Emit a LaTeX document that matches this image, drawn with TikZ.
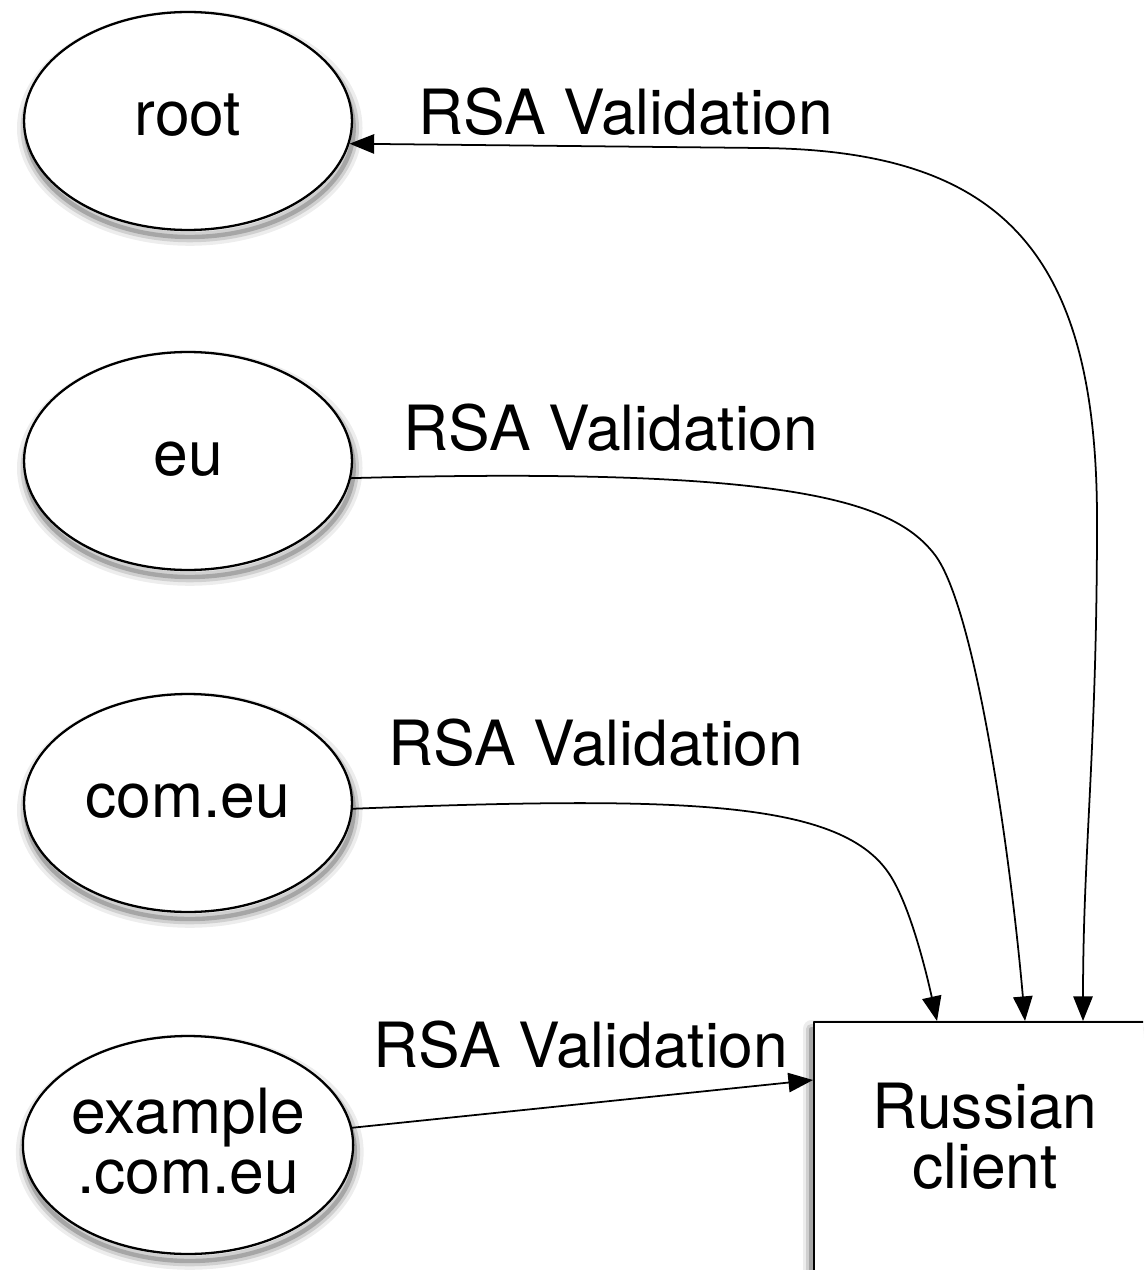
\documentclass[tikz,border=0pt]{standalone}
\usepackage{fontspec}
\setmainfont{TeX Gyre Heros}
\usetikzlibrary{shapes.geometric,arrows.meta}

\begin{document}
\begin{tikzpicture}[x=0.02cm,y=-0.02cm,line cap=round,line join=round,
  big/.style={font=\fontsize{35.5}{34}\selectfont},
  softshadow/.style={
    preaction={draw=black,line width=10pt,opacity=.07,transform canvas={xshift=#1,yshift=-4pt}},
    preaction={draw=black,line width=6pt,opacity=.12,transform canvas={xshift=#1,yshift=-4pt}},
    preaction={draw=black,line width=2.5pt,opacity=.2,transform canvas={xshift=#1,yshift=-4pt}}},
  zone/.style={ellipse,draw,line width=1.3pt,fill=white,inner sep=0pt,
    minimum width=6.56cm,minimum height=4.36cm,big,softshadow=1pt},
  oneline/.style={text height=24.5pt,text depth=7.7pt},
  clientbox/.style={rectangle,draw,line width=1.2pt,fill=white,anchor=north west,
    minimum width=6.9cm,minimum height=6cm,softshadow=-1.5pt},
  link/.style={line width=1pt,-{Triangle[length=14pt,width=11pt]}},
  both/.style={line width=1pt,{Triangle[length=14pt,width=11pt]}-{Triangle[length=14pt,width=11pt]}}]
  \useasboundingbox (0,0) rectangle (1143,1270);
  \clip (0,0) rectangle (1143,1270);
  \node[zone,oneline] (root) at (188,121) {root};
  \node[zone,oneline] (eu) at (188,461) {eu};
  \node[zone,oneline] (comeu) at (188,803) {com.eu};
  \node[zone,align=center] (excom) at (188,1145) {example\\.com.eu\rule[-4.5pt]{0pt}{0pt}};
  \node[clientbox] (client) at (813,1021) {};
  \node[big,align=center] (clientname) at ([shift={(172,115)}]client.north west) {Russian\\client};
  \draw[both] ([shift={(270,0)}]client.north west) .. controls (1083,850) and (1097,750) .. (1097,520)
    .. controls (1097,250) and (1000,150) .. (760,148) -- (root.-8.7);
  \draw[link] (eu.-6) .. controls (800,466) and (895,503) .. (935,555)
    .. controls (975,608) and (1010,850) .. ([shift={(212,0)}]client.north west);
  \draw[link] (comeu.-2) .. controls (700,795) and (849,802) .. (893,880)
    .. controls (913,915) and (928,980) .. ([shift={(124,0)}]client.north west);
  \draw[link] (excom.6) -- ([shift={(0,59)}]client.north west);
  \node[big,anchor=base] (lbla) at (626,135) {RSA Validation};
  \node[big,anchor=base] (lblb) at (611,450) {RSA Validation};
  \node[big,anchor=base] (lblc) at (596,765) {RSA Validation};
  \node[big,anchor=base] (lbld) at (581,1067) {RSA Validation};
\end{tikzpicture}
\end{document}
